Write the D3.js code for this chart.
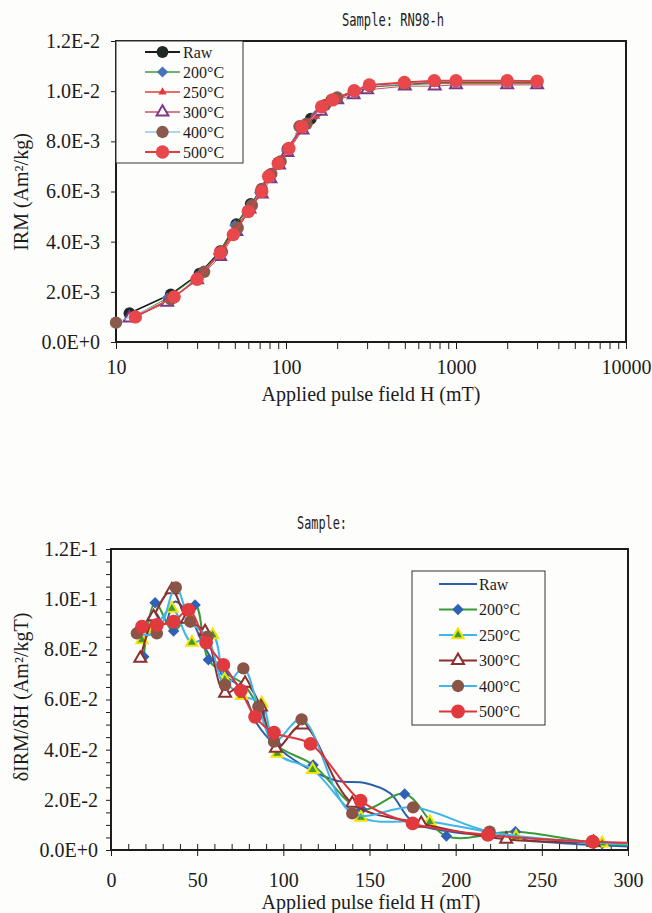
<!DOCTYPE html>
<html>
<head>
<meta charset="utf-8">
<script src="https://cdnjs.cloudflare.com/ajax/libs/d3/7.8.5/d3.min.js"></script>
<style>
  body { margin: 0; background: #fdfdfb; }
  svg text { font-family: "Liberation Serif", "Times New Roman", serif; fill: #1c1c1c; }
  .axis path, .axis line { stroke: #1c1c1c; }
</style>
</head>
<body>
<div id="chart"></div>
<script>

// Series names (same for both panels)
var seriesNames = ["Raw", "200°C", "250°C", "300°C", "400°C", "500°C"];

// IRM acquisition curves, [H (mT), IRM (Am2/kg)]
var irmRaw = [[12,0.00115],[21,0.00190],[31,0.00272],[41,0.00362],[51,0.00470],[62,0.00550],[71,0.00600],[80,0.00665],[90,0.00715],[102,0.00770],[123,0.00855],[140,0.00890],[185,0.00965],[250,0.01000],[310,0.01020],[500,0.01030],[750,0.01035],[1000,0.01035],[2000,0.01035],[3000,0.01035]];
var irm200 = [[13,0.00105],[20,0.00175],[30,0.00262],[40,0.00350],[50,0.00465],[60,0.00535],[70,0.00595],[80,0.00665],[90,0.00710],[101,0.00760],[126,0.00860],[150,0.00905],[180,0.00955],[250,0.00995],[300,0.01015],[500,0.01025],[750,0.01030],[1000,0.01030],[2000,0.01030],[3000,0.01030]];
var irm250 = [[13,0.00100],[20,0.00160],[30,0.00250],[40,0.00345],[50,0.00450],[60,0.00525],[70,0.00590],[80,0.00660],[90,0.00705],[100,0.00755],[125,0.00850],[150,0.00900],[200,0.00970],[250,0.00995],[300,0.01015],[500,0.01030],[750,0.01035],[1000,0.01035],[2000,0.01035],[3000,0.01035]];
var irm300 = [[12,0.00095],[20,0.00158],[30,0.00248],[41,0.00340],[51,0.00440],[61,0.00530],[72,0.00590],[81,0.00650],[91,0.00705],[102,0.00755],[125,0.00845],[160,0.00920],[200,0.00965],[250,0.00985],[300,0.01005],[500,0.01020],[750,0.01020],[1000,0.01025],[2000,0.01025],[3000,0.01025]];
var irm400 = [[10,0.00077],[21,0.00170],[33,0.00280],[42,0.00360],[52,0.00455],[63,0.00545],[72,0.00610],[82,0.00670],[93,0.00720],[104,0.00770],[120,0.00860],[132,0.00870],[170,0.00945],[200,0.00975],[252,0.01000],[310,0.01020],[500,0.01030],[750,0.01040],[1000,0.01040],[2000,0.01040],[3000,0.01040]];
var irm500 = [[13,0.00100],[22,0.00180],[30,0.00250],[41,0.00355],[49,0.00428],[60,0.00520],[72,0.00600],[79,0.00660],[90,0.00712],[104,0.00772],[124,0.00858],[162,0.00938],[188,0.00965],[252,0.01002],[309,0.01025],[497,0.01035],[745,0.01042],[1000,0.01042],[2000,0.01042],[3000,0.01040]];

// Derivative dIRM/dH, [H (mT), Am2/kgT]
var dIrmRaw = [[18,0.0870],[25,0.0950],[31,0.0900],[37,0.0990],[45,0.0940],[55,0.0800],[65,0.0700],[75,0.0650],[85,0.0500],[95,0.0420],[113,0.0330],[131,0.0276],[148,0.0266],[162,0.0226],[175,0.0113],[200,0.0070],[220,0.0060],[240,0.0040],[280,0.0020],[320,0.0010]];
var dIrm200 = [[19,0.0770],[25.6,0.0986],[36.3,0.0873],[48.8,0.0977],[56.5,0.0758],[66.2,0.0705],[77,0.0660],[87,0.0550],[96,0.0420],[117.3,0.0339],[145.4,0.0162],[170.4,0.0223],[194.6,0.0056],[234.7,0.0073],[285,0.0025],[330,0.0015]];
var dIrm250 = [[18,0.0837],[25,0.0880],[35.3,0.0963],[46.9,0.0827],[59,0.0857],[66,0.0680],[75.8,0.0615],[87.4,0.0585],[96.5,0.0385],[117,0.0320],[145,0.0130],[185,0.0113],[235,0.0053],[285,0.0027],[330,0.0018]];
var dIrm300 = [[17,0.0764],[24.7,0.0930],[35.3,0.1037],[44,0.0920],[54.6,0.0870],[66.2,0.0625],[77.8,0.0665],[87,0.0570],[95.7,0.0405],[111.2,0.0498],[140,0.0186],[180,0.0106],[229.3,0.0043],[280,0.0030],[330,0.0022]];
var dIrm400 = [[15,0.0864],[26.6,0.0864],[37.6,0.1047],[46,0.0910],[56,0.0850],[66.2,0.0658],[76.8,0.0724],[85.5,0.0571],[94.6,0.0432],[110.6,0.0521],[140,0.0146],[175.3,0.0170],[219.7,0.0073],[280,0.0030],[330,0.0020]];
var dIrm500 = [[18,0.0890],[26.6,0.0897],[36.3,0.0910],[45,0.0957],[55.2,0.0827],[65.2,0.0738],[75.3,0.0635],[83.6,0.0531],[94.6,0.0468],[115.8,0.0423],[144.8,0.0197],[175,0.0106],[218.7,0.0060],[279.5,0.0033],[330,0.0025]];

var irmSeries = [irmRaw, irm200, irm250, irm300, irm400, irm500];
var dIrmSeries = [dIrmRaw, dIrm200, dIrm250, dIrm300, dIrm400, dIrm500];

// Tick values and labels
var irmTicks = [0, 0.002, 0.004, 0.006, 0.008, 0.010, 0.012];
var irmTickLabels = ["0.0E+0", "2.0E-3", "4.0E-3", "6.0E-3", "8.0E-3", "1.0E-2", "1.2E-2"];
var dIrmTicks = [0, 0.02, 0.04, 0.06, 0.08, 0.10, 0.12];
var dIrmTickLabels = ["0.0E+0", "2.0E-2", "4.0E-2", "6.0E-2", "8.0E-2", "1.0E-1", "1.2E-1"];
var logTicks = [10, 100, 1000, 10000];
var linTicks = [0, 50, 100, 150, 200, 250, 300];


// Parameters
var width = 652,
    height = 913,
    top1 = {x0: 116, x1: 626, y0: 41, y1: 342},
    top2 = {x0: 111, x1: 628, y0: 549, y1: 850};

var svg = d3.select("#chart").append("svg")
    .attr("width", width)
    .attr("height", height);

// Marker / line styles per series
var styleTop = [
  {line: "#1b1b1b", lw: 1.6, sym: d3.symbolCircle, size: 110, fill: "#1f2a27", stroke: "#1f2a27", sw: 0, rot: 0},
  {line: "#3f9a3f", lw: 1,   sym: d3.symbolSquare, size: 62,  fill: "#4a72b8", stroke: "#4a72b8", sw: 0, rot: 45},
  {line: "#e23a3a", lw: 1,   sym: d3.symbolTriangle, size: 30, fill: "#e23a3a", stroke: "#e23a3a", sw: 0, rot: 0},
  {line: "#c8506a", lw: 1,   sym: d3.symbolTriangle, size: 60, fill: "#ffffff", stroke: "#7a3a8c", sw: 2, rot: 0},
  {line: "#8ccbe8", lw: 1,   sym: d3.symbolCircle, size: 120, fill: "#8b5a4e", stroke: "#8b5a4e", sw: 0, rot: 0},
  {line: "#e23c40", lw: 1.6, sym: d3.symbolCircle, size: 140, fill: "#e8474b", stroke: "#e8474b", sw: 0, rot: 0}
];

var styleBottom = [
  {line: "#2d5fa8", lw: 2, sym: null},
  {line: "#3a9a3a", lw: 2, sym: d3.symbolSquare, size: 66, fill: "#2f62b4", stroke: "#2f62b4", sw: 0, rot: 45},
  {line: "#3fb5e8", lw: 2, sym: d3.symbolTriangle, size: 55, fill: "#3c9a3c", stroke: "#f2e400", sw: 2, rot: 0},
  {line: "#8b2f2f", lw: 2, sym: d3.symbolTriangle, size: 62, fill: "#ffffff", stroke: "#8b2f2f", sw: 2, rot: 0},
  {line: "#3fb5e8", lw: 2, sym: d3.symbolCircle, size: 120, fill: "#8a5446", stroke: "#8a5446", sw: 0, rot: 0},
  {line: "#d9373d", lw: 2, sym: d3.symbolCircle, size: 150, fill: "#e0393e", stroke: "#e0393e", sw: 0, rot: 0}
];

function marker(g, s, x, y) {
  if (!s.sym) return;
  g.append("path")
    .attr("d", d3.symbol().type(s.sym).size(s.size)())
    .attr("transform", "translate(" + x + "," + y + ") rotate(" + s.rot + ")")
    .style("fill", s.fill)
    .style("stroke", s.stroke)
    .style("stroke-width", s.sw);
}


///////////////////////////////////////////////////////////////
// Top panel: IRM acquisition (log H)
///////////////////////////////////////////////////////////////

var x1 = d3.scaleLog().domain([10, 10000]).range([top1.x0, top1.x1]);
var y1 = d3.scaleLinear().domain([0, 0.012]).range([top1.y1, top1.y0]);

var logMinor = [];
[10, 100, 1000].forEach(function(dec) {
  for (var k = 1; k < 10; k++) logMinor.push(dec * k);
});
logMinor.push(10000);

svg.append("g")
    .attr("class", "axis")
    .attr("transform", "translate(0," + top1.y1 + ")")
    .call(d3.axisBottom(x1).tickValues(logMinor).tickSize(7).tickPadding(11)
      .tickFormat(function(d) { return logTicks.indexOf(d) >= 0 ? d : ""; }))
    .call(function(g) { g.select(".domain").remove(); })
    .selectAll("text").style("font-size", "20px");

svg.append("g")
    .attr("class", "axis")
    .attr("transform", "translate(" + top1.x0 + ",0)")
    .call(d3.axisLeft(y1).tickValues(irmTicks).tickSize(5).tickPadding(11)
      .tickFormat(function(d, i) { return irmTickLabels[i]; }))
    .call(function(g) { g.select(".domain").remove(); })
    .selectAll("text").style("font-size", "20px");

svg.append("rect")
    .attr("x", top1.x0).attr("y", top1.y0)
    .attr("width", top1.x1 - top1.x0).attr("height", top1.y1 - top1.y0)
    .style("fill", "none").style("stroke", "#1c1c1c").style("stroke-width", 2);

var lineTop = d3.line()
    .x(function(d) { return x1(d[0]); })
    .y(function(d) { return y1(d[1]); });

irmSeries.forEach(function(data, i) {
  var s = styleTop[i];
  var g = svg.append("g").attr("class", "series-top");
  g.append("path")
    .datum(data)
    .attr("d", lineTop)
    .style("fill", "none")
    .style("stroke", s.line)
    .style("stroke-width", s.lw);
  data.forEach(function(d) { marker(g, s, x1(d[0]), y1(d[1])); });
});

// legend
var legTop = svg.append("g");
legTop.append("rect")
    .attr("x", 116).attr("y", 41).attr("width", 127).attr("height", 122)
    .style("fill", "#fdfdfb").style("stroke", "#333").style("stroke-width", 1);
seriesNames.forEach(function(name, i) {
  var yy = 52 + i * 20, s = styleTop[i];
  legTop.append("line")
    .attr("x1", 145).attr("x2", 180).attr("y1", yy).attr("y2", yy)
    .style("stroke", s.line).style("stroke-width", s.lw + 0.6);
  marker(legTop, s, 162.5, yy);
  legTop.append("text")
    .attr("x", 183).attr("y", yy).attr("dy", "0.35em")
    .style("font-size", "16px")
    .text(name);
});

svg.append("text")
    .attr("x", 342).attr("y", 26)
    .attr("textLength", 102).attr("lengthAdjust", "spacingAndGlyphs")
    .style("font-family", "'DejaVu Sans Mono', monospace")
    .style("font-size", "17px")
    .text("Sample: RN98-h");

svg.append("text")
    .attr("x", 371).attr("y", 401)
    .attr("text-anchor", "middle")
    .style("font-size", "20px")
    .text("Applied pulse field H (mT)");

svg.append("text")
    .attr("transform", "translate(28," + 192 + ") rotate(-90)")
    .attr("text-anchor", "middle")
    .style("font-size", "20px")
    .text("IRM (Am²/kg)");


///////////////////////////////////////////////////////////////
// Bottom panel: dIRM/dH (linear H)
///////////////////////////////////////////////////////////////

var x2 = d3.scaleLinear().domain([0, 300]).range([top2.x0, top2.x1]);
var y2 = d3.scaleLinear().domain([0, 0.12]).range([top2.y1, top2.y0]);

svg.append("defs").append("clipPath")
    .attr("id", "clip2")
  .append("rect")
    .attr("x", top2.x0).attr("y", top2.y0)
    .attr("width", top2.x1 - top2.x0).attr("height", top2.y1 - top2.y0);

// minor ticks inside, major ticks cross the axis
svg.append("g")
    .attr("class", "axis")
    .attr("transform", "translate(0," + top2.y1 + ")")
    .call(d3.axisBottom(x2).tickValues(d3.range(0, 301, 10)).tickSize(-6).tickFormat(""))
    .call(function(g) { g.select(".domain").remove(); });

svg.append("g")
    .attr("class", "axis")
    .attr("transform", "translate(0," + top2.y1 + ")")
    .call(d3.axisBottom(x2).tickValues(linTicks).tickSize(6).tickPadding(17))
    .call(function(g) { g.select(".domain").remove(); })
    .selectAll("text").style("font-size", "20px");

svg.append("g")
    .attr("class", "axis")
    .attr("transform", "translate(" + top2.x0 + ",0)")
    .call(d3.axisLeft(y2).tickValues(d3.range(0, 0.1201, 0.005)).tickSize(5).tickPadding(8)
      .tickFormat(function(d) {
        var i = dIrmTicks.findIndex(function(t) { return Math.abs(t - d) < 1e-6; });
        return i >= 0 ? dIrmTickLabels[i] : "";
      }))
    .call(function(g) { g.select(".domain").remove(); })
    .selectAll("text").style("font-size", "20px");

svg.append("rect")
    .attr("x", top2.x0).attr("y", top2.y0)
    .attr("width", top2.x1 - top2.x0).attr("height", top2.y1 - top2.y0)
    .style("fill", "none").style("stroke", "#1c1c1c").style("stroke-width", 2);

var lineBottom = d3.line()
    .curve(d3.curveCatmullRom.alpha(0.5))
    .x(function(d) { return x2(d[0]); })
    .y(function(d) { return y2(d[1]); });

dIrmSeries.forEach(function(data, i) {
  var s = styleBottom[i];
  var g = svg.append("g").attr("class", "series-bottom").attr("clip-path", "url(#clip2)");
  g.append("path")
    .datum(data)
    .attr("d", lineBottom)
    .style("fill", "none")
    .style("stroke", s.line)
    .style("stroke-width", s.lw);
  data.filter(function(d) { return d[0] <= 300; })
    .forEach(function(d) { marker(g, s, x2(d[0]), y2(d[1])); });
});

// legend
var legBot = svg.append("g");
legBot.append("rect")
    .attr("x", 412).attr("y", 571).attr("width", 133).attr("height", 154)
    .style("fill", "#fdfdfb").style("stroke", "#333").style("stroke-width", 1);
seriesNames.forEach(function(name, i) {
  var yy = 584 + i * 25.5, s = styleBottom[i];
  legBot.append("line")
    .attr("x1", 439).attr("x2", 477).attr("y1", yy).attr("y2", yy)
    .style("stroke", s.line).style("stroke-width", s.lw);
  marker(legBot, s, 458, yy);
  legBot.append("text")
    .attr("x", 479).attr("y", yy).attr("dy", "0.35em")
    .style("font-size", "16px")
    .text(name);
});

svg.append("text")
    .attr("x", 297).attr("y", 529)
    .attr("textLength", 50).attr("lengthAdjust", "spacingAndGlyphs")
    .style("font-family", "'DejaVu Sans Mono', monospace")
    .style("font-size", "17px")
    .text("Sample:");

svg.append("text")
    .attr("x", 371).attr("y", 909)
    .attr("text-anchor", "middle")
    .style("font-size", "20px")
    .text("Applied pulse field H (mT)");

svg.append("text")
    .attr("transform", "translate(28," + 697 + ") rotate(-90)")
    .attr("text-anchor", "middle")
    .style("font-size", "20px")
    .text("δIRM/δH (Am²/kgT)");

</script>
</body>
</html>
